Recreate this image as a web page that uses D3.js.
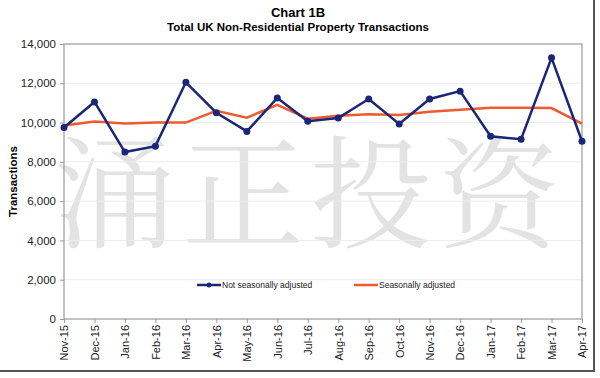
<!DOCTYPE html>
<html>
<head>
<meta charset="utf-8">
<script src="https://cdn.jsdelivr.net/npm/d3@7"></script>
<style>
body { margin: 0; background: #fff; }
text { font-family: "Liberation Sans", Arial, sans-serif; }
</style>
</head>
<body>
<div id="chart-area"></div>
<script>
const months = ["Nov-15","Dec-15","Jan-16","Feb-16","Mar-16","Apr-16","May-16","Jun-16","Jul-16","Aug-16",
	"Sep-16","Oct-16","Nov-16","Dec-16","Jan-17","Feb-17","Mar-17","Apr-17"];
const notAdjusted = [9750, 11050, 8500, 8800, 12050, 10500, 9550, 11250, 10070, 10230,
	11200, 9930, 11200, 11600, 9300, 9150, 13300, 9050];
const adjusted = [9850, 10050, 9950, 10000, 10000, 10600, 10250, 10900, 10200, 10350,
	10420, 10390, 10550, 10650, 10760, 10750, 10740, 9950];
const yTicks = [0, 2000, 4000, 6000, 8000, 10000, 12000, 14000];

const width = 600, height = 378;
const margin = {top: 44, right: 18, bottom: 59, left: 64};

var svg = d3.select("#chart-area").append("svg")
	.attr("width", width)
	.attr("height", height);

// watermark
svg.append("text")
	.attr("x", 310)
	.attr("y", 238)
	.attr("text-anchor", "middle")
	.attr("fill", "#e3e3e3")
	.style("font-family", "'Noto Serif CJK SC', 'Noto Sans CJK SC', serif")
	.style("font-size", "122px")
	.style("letter-spacing", "6px")
	.text("涌正投资");

// frame
svg.append("line").attr("x1", 0).attr("x2", 595).attr("y1", 371).attr("y2", 371)
	.attr("stroke", "#555").attr("stroke-width", 2);
svg.append("line").attr("x1", 594).attr("x2", 594).attr("y1", 0).attr("y2", 371)
	.attr("stroke", "#555").attr("stroke-width", 2);

var x = d3.scalePoint()
	.domain(months)
	.range([margin.left, width - margin.right]);

var y = d3.scaleLinear()
	.domain([0, 14000])
	.range([height - margin.bottom, margin.top]);

// gridlines
svg.append("g")
	.selectAll("line")
	.data(yTicks.slice(1, -1))
	.enter().append("line")
	.attr("x1", margin.left)
	.attr("x2", width - margin.right)
	.attr("y1", d => y(d))
	.attr("y2", d => y(d))
	.attr("stroke", "#ececec")
	.attr("stroke-width", 1);

// plot border
svg.append("rect")
	.attr("x", margin.left)
	.attr("y", margin.top)
	.attr("width", width - margin.right - margin.left)
	.attr("height", height - margin.bottom - margin.top)
	.attr("fill", "none")
	.attr("stroke", "#9a9a9a")
	.attr("stroke-width", 1.2);

var yAxis = svg.append("g")
	.attr("transform", `translate(${margin.left},0)`)
	.call(d3.axisLeft(y).tickValues(yTicks).tickSize(4).tickPadding(4).tickFormat(d3.format(",")));
yAxis.select(".domain").remove();
yAxis.selectAll("line").attr("stroke", "#9a9a9a");
yAxis.selectAll("text").attr("fill", "#222").style("font-size", "11.5px");

var xAxis = svg.append("g")
	.attr("transform", `translate(0,${height - margin.bottom})`)
	.call(d3.axisBottom(x).tickSize(4).tickSizeOuter(0));
xAxis.select(".domain").remove();
xAxis.selectAll("line").attr("stroke", "#9a9a9a");
xAxis.selectAll("text")
	.attr("transform", "rotate(-90)")
	.attr("text-anchor", "end")
	.attr("x", -6)
	.attr("y", 0)
	.attr("dy", "0.35em")
	.attr("fill", "#222")
	.style("font-size", "11px");

svg.append("text")
	.attr("transform", "rotate(-90)")
	.attr("x", -(margin.top + height - margin.bottom) / 2)
	.attr("y", 17)
	.attr("text-anchor", "middle")
	.style("font-size", "11.5px")
	.style("font-weight", "bold")
	.text("Transactions");

svg.append("text")
	.attr("x", 298).attr("y", 17)
	.attr("text-anchor", "middle")
	.style("font-size", "13px")
	.style("font-weight", "bold")
	.text("Chart 1B");

svg.append("text")
	.attr("x", 298).attr("y", 31)
	.attr("text-anchor", "middle")
	.style("font-size", "11.5px")
	.style("font-weight", "bold")
	.text("Total UK Non-Residential Property Transactions");

var line = d3.line()
	.x((d, i) => x(months[i]))
	.y(d => y(d));

svg.append("path")
	.datum(adjusted)
	.attr("fill", "none")
	.attr("stroke", "#ef5a2e")
	.attr("stroke-width", 2.5)
	.attr("d", line);

svg.append("path")
	.datum(notAdjusted)
	.attr("fill", "none")
	.attr("stroke", "#1c2677")
	.attr("stroke-width", 2.5)
	.attr("d", line);

svg.selectAll(".dot")
	.data(notAdjusted)
	.enter().append("circle")
	.attr("class", "dot")
	.attr("cx", (d, i) => x(months[i]))
	.attr("cy", d => y(d))
	.attr("r", 3.5)
	.attr("fill", "#1c2677");

// legend
var legend = svg.append("g").attr("transform", "translate(0,285)");
legend.append("line").attr("x1", 197).attr("x2", 221).attr("y1", 0).attr("y2", 0)
	.attr("stroke", "#1c2677").attr("stroke-width", 2.5);
legend.append("circle").attr("cx", 209).attr("cy", 0).attr("r", 2.5).attr("fill", "#1c2677");
legend.append("text").attr("x", 222).attr("y", 0).attr("dy", "0.35em")
	.style("font-size", "8.5px").attr("fill", "#222").text("Not seasonally adjusted");
legend.append("line").attr("x1", 354).attr("x2", 378).attr("y1", 0).attr("y2", 0)
	.attr("stroke", "#ef5a2e").attr("stroke-width", 2.5);
legend.append("text").attr("x", 379).attr("y", 0).attr("dy", "0.35em")
	.style("font-size", "8.5px").attr("fill", "#222").text("Seasonally adjusted");
</script>
</body>
</html>
